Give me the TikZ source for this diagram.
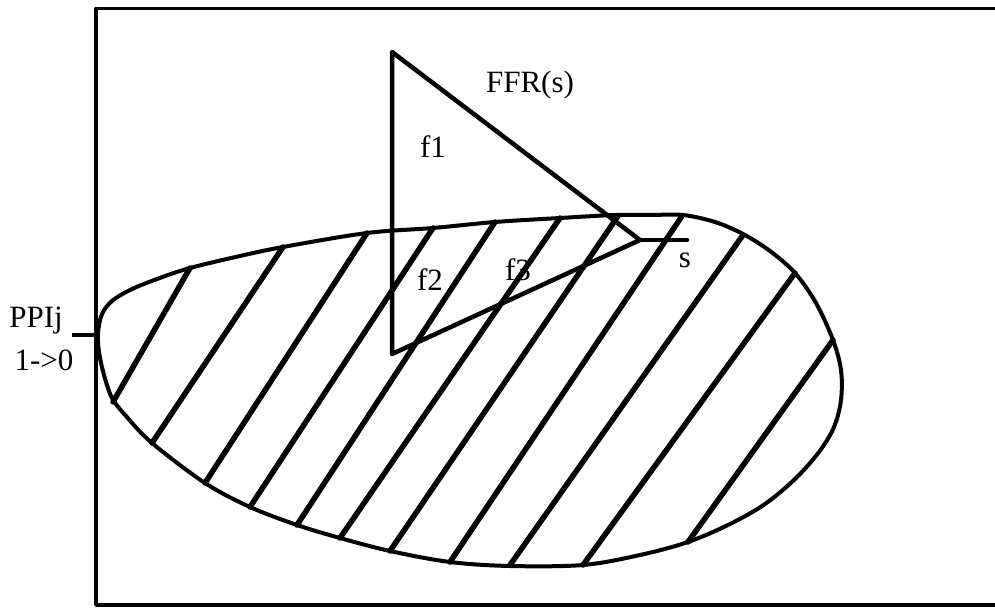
\documentclass[tikz,border=0pt]{standalone}
\usepackage{fontspec}
\setmainfont{Liberation Serif}
\begin{document}
\begin{tikzpicture}[x=1pt,y=-1pt,line join=round,line cap=round,
  frameline/.style={line width=3.5pt,line cap=butt},
  outline/.style={line width=4pt},
  hatch/.style={line width=5.5pt},
  tri/.style={line width=4.5pt},
  lbl/.style={font=\fontsize{31}{37}\selectfont,inner sep=0pt,anchor=base}]
\useasboundingbox (0,0) rectangle (995,612);
% frame (right side cut off)
\draw[frameline] (995,8.5) -- (96,8.5) -- (96,605) -- (995,605);
% blob
\draw[outline] plot[smooth cycle,tension=0.55] coordinates {
 (98,333) (102,314) (112,301) (130,290) (157,279) (190,268) (240,256) (283,247)
 (367,233) (433,228) (495,222) (560,218) (615,215) (650,215) (683,215)
 (715,222) (743,234) (770,251) (795,273) (816,303) (833,340) (841,370)
 (841,400) (834,427) (819,452) (795,479) (765,504) (730,524) (688,542)
 (640,555) (583,565) (510,566) (450,562) (390,551) (340,538) (297,525)
 (250,507) (205,483) (152,443) (126,416) (112,398) (104,375) (99,352)};
% hatch lines
\foreach \xa/\ya/\xb/\yb in {
 190/268/113/402, 283/247/152/443, 367/233/205/483, 433/228/250/507,
 495/222/297/525, 560/218/340/538, 618/216/390/551, 682/216/450/562,
 743/235/510/565, 795/273/583/565, 833/340/688/542}
 \draw[hatch] (\xa,\ya) -- (\xb,\yb);
% triangle FFR(s)
\coordinate (A) at (392,52);
\coordinate (B) at (392,354);
\coordinate (C) at (640,240);
\coordinate (sE) at (687,240);
\draw[tri] (A) -- (C) -- (B) -- cycle;
\draw[tri] (C) -- (sE);
% PPIj tick
\coordinate (tk) at (72,335);
\coordinate (tf) at (96,335);
\draw[frameline] (tk) -- (tf);
% labels
\node[lbl] (ffr) at (530,93) {FFR(s)};
\node[lbl] (f1) at (433,158) {f1};
\node[lbl] (f2) at (430,290) {f2};
\node[lbl] (f3) at (518,280) {f3};
\node[lbl] (s) at (685,268) {s};
\node[lbl] (ppi) at (36,327) {PPIj};
\node[lbl] (tr) at (44,370) {1->0};
\end{tikzpicture}
\end{document}
